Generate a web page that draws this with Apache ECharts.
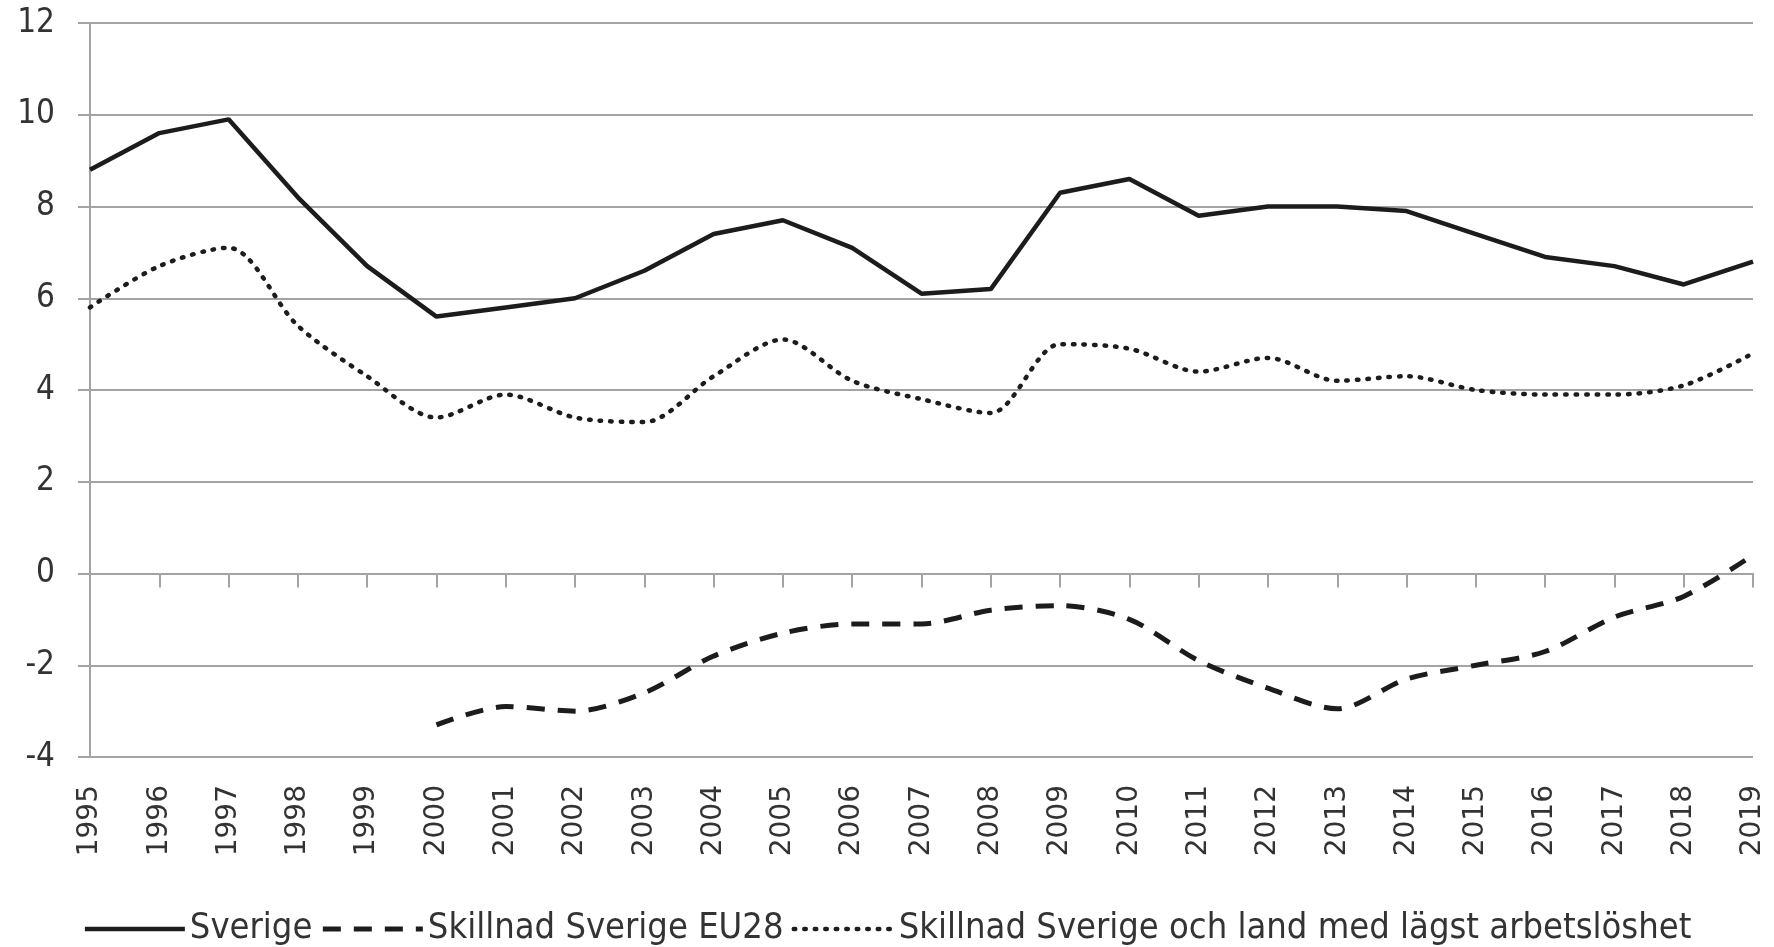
<!DOCTYPE html>
<html>
  <head>
    <meta charset="UTF-8">
    <title>Arbetslöshet Sverige</title>
    <script src="https://cdn.jsdelivr.net/npm/echarts@6/dist/echarts.min.js"></script>
    <style>
      html, body { margin: 0; padding: 0; background: #fff; }
      #chart { width: 1774px; height: 947px; }
    </style>
  </head>
  <body>
    <div id="chart"></div>
    <script>
// years on the x axis
const years = ['1995', '1996', '1997', '1998', '1999', '2000', '2001', '2002', '2003', '2004', '2005', '2006',
  '2007', '2008', '2009', '2010', '2011', '2012', '2013', '2014', '2015', '2016', '2017', '2018', '2019'];

// series values
const sverige = [8.8, 9.6, 9.9, 8.2, 6.7, 5.6, 5.8, 6.0, 6.6, 7.4, 7.7, 7.1,
  6.1, 6.2, 8.3, 8.6, 7.8, 8.0, 8.0, 7.9, 7.4, 6.9, 6.7, 6.3, 6.8];
const skillnadEU28 = [null, null, null, null, null, -3.3, -2.9, -3.0, -2.6, -1.8, -1.3, -1.1,
  -1.1, -0.8, -0.7, -1.0, -1.9, -2.5, -2.95, -2.3, -2.0, -1.7, -0.95, -0.5, 0.4];
const skillnadLagst = [5.8, 6.7, 7.1, 5.4, 4.3, 3.4, 3.9, 3.4, 3.3, 4.3, 5.1, 4.2,
  3.8, 3.5, 5.0, 4.9, 4.4, 4.7, 4.2, 4.3, 4.0, 3.9, 3.9, 4.1, 4.8];

const yTicks = { min: -4, max: 12, step: 2 };

const GRID_COLOR = '#a3a3a3';
const LINE_COLOR = '#1c1c1c';
const TEXT_COLOR = '#333333';
const NARROW_FONT = '"Liberation Sans Narrow", "DejaVu Sans Condensed", "Open Sans", sans-serif';

const chart = echarts.init(document.getElementById('chart'), null, { renderer: 'canvas' });

chart.setOption({
  animation: false,
  backgroundColor: '#ffffff',
  grid: { left: 90, right: 21, top: 23, bottom: 190, containLabel: false },
  legend: {
    bottom: 0,
    left: 'center',
    padding: 0,
    itemWidth: 100,
    itemHeight: 14,
    itemGap: 8,
    itemStyle: { color: 'rgba(0,0,0,0)', borderWidth: 0, opacity: 0 },
    lineStyle: { width: 'inherit', type: 'inherit', cap: 'inherit' },
    textStyle: { fontFamily: NARROW_FONT, fontSize: 36, color: TEXT_COLOR },
    data: ['Sverige', 'Skillnad Sverige EU28', 'Skillnad Sverige och land med lägst arbetslöshet']
  },
  xAxis: [
    {
      // labels at the bottom of the plot
      type: 'category',
      data: years,
      boundaryGap: false,
      position: 'bottom',
      axisLine: { show: false, onZero: false },
      axisTick: { show: false },
      axisLabel: {
        rotate: 90,
        interval: 0,
        margin: 28,
        fontFamily: '"DejaVu Sans", sans-serif',
        fontSize: 28,
        color: TEXT_COLOR
      },
      splitLine: { show: false }
    },
    {
      // axis line and ticks at zero
      type: 'category',
      data: years,
      boundaryGap: false,
      position: 'bottom',
      axisLine: { show: true, onZero: true, lineStyle: { color: GRID_COLOR, width: 2 } },
      axisTick: { show: true, interval: 0, length: 14, lineStyle: { color: GRID_COLOR, width: 2 } },
      axisLabel: { show: false },
      splitLine: { show: false }
    }
  ],
  yAxis: {
    type: 'value',
    min: yTicks.min,
    max: yTicks.max,
    interval: yTicks.step,
    axisLine: { show: true, lineStyle: { color: GRID_COLOR, width: 2 } },
    axisTick: { show: true, length: 12, lineStyle: { color: GRID_COLOR, width: 2 } },
    axisLabel: { margin: 35, fontFamily: NARROW_FONT, fontSize: 33, color: TEXT_COLOR },
    splitLine: { show: true, lineStyle: { color: GRID_COLOR, width: 2 } }
  },
  series: [
    {
      name: 'Sverige',
      type: 'line',
      xAxisIndex: 0,
      data: sverige,
      symbol: 'none',
      lineStyle: { color: LINE_COLOR, width: 4.5, type: 'solid' },
      itemStyle: { color: LINE_COLOR }
    },
    {
      name: 'Skillnad Sverige EU28',
      type: 'line',
      xAxisIndex: 0,
      data: skillnadEU28,
      symbol: 'none',
      smooth: 0.3,
      lineStyle: { color: LINE_COLOR, width: 5, type: [18, 13] },
      itemStyle: { color: LINE_COLOR }
    },
    {
      name: 'Skillnad Sverige och land med lägst arbetslöshet',
      type: 'line',
      xAxisIndex: 0,
      data: skillnadLagst,
      symbol: 'none',
      smooth: 0.3,
      lineStyle: { color: LINE_COLOR, width: 4.5, type: [1.5, 9], cap: 'round' },
      itemStyle: { color: LINE_COLOR }
    }
  ]
});
    </script>
  </body>
</html>
